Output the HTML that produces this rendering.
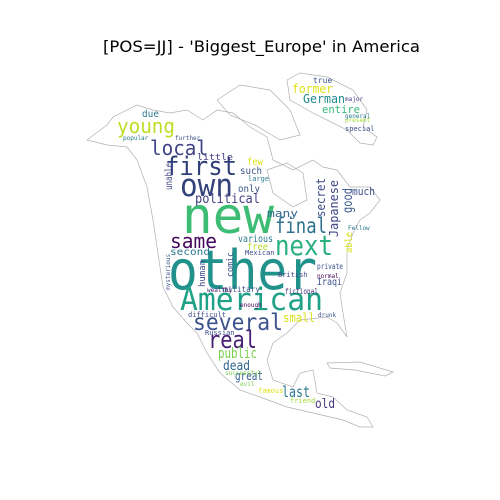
<!DOCTYPE html>
<html><head><meta charset="utf-8"><style>
html,body{margin:0;padding:0;background:#fff;width:500px;height:500px;overflow:hidden}
svg text{font-family:"DejaVu Sans Mono","Liberation Mono",monospace}
</style></head><body>
<svg width="500" height="500" viewBox="0 0 500 500" xmlns="http://www.w3.org/2000/svg">
<rect width="500" height="500" fill="#fff"/>
<text x="103" y="52" font-size="16" textLength="317" lengthAdjust="spacingAndGlyphs" style="font-family:'DejaVu Sans','Liberation Sans',sans-serif" fill="#000">[POS=JJ] - 'Biggest_Europe' in America</text>
<g fill="none" stroke="#b0b0b0" stroke-width="0.7">
<path d="M87,140 L107,125 L113,117 L137,105 L153,110 L170,113 L187,110 L203,120 L217,110 L233,113 L250,127 L267,137 L273,160 L293,170 L313,160 L323,167 L337,170 L350,187 L370,187 L380,200 L370,213 L360,220 L353,233 L347,250 L347,273 L340,293 L343,313 L347,337 L337,323 L327,317 L300,320 L287,333 L273,343 L267,360 L273,380 L293,387 L300,373 L313,370 L317,393 L333,397 L347,410 L367,417 L373,427 L360,427 L343,420 L313,413 L287,407 L260,397 L240,390 L220,373 L207,353 L197,333 L187,323 L173,307 L163,287 L160,267 L157,247 L153,220 L147,187 L137,160 L127,147 L107,145 Z"/>
<path d="M287,80 L300,73 L327,77 L353,90 L367,110 L363,127 L377,137 L373,145 L360,143 L347,130 L313,113 L290,100 Z"/>
<path d="M217,100 L240,85 L270,90 L290,110 L300,135 L280,140 L255,125 L230,115 Z"/>
<path d="M267,170 L287,163 L303,173 L307,200 L293,207 L273,193 Z"/>
<path d="M327,363 L360,362 L393,372 L385,376 L355,370 L330,368 Z"/>
</g>
<g>
<text x="168" y="289" font-size="54" textLength="149" lengthAdjust="spacingAndGlyphs" fill="#21918c">other</text>
<text x="182" y="233" font-size="50" textLength="92" lengthAdjust="spacingAndGlyphs" fill="#3dbc74">new</text>
<text x="180" y="310" font-size="31" textLength="143" lengthAdjust="spacingAndGlyphs" fill="#1fa187">American</text>
<text x="275" y="255" font-size="28" textLength="58" lengthAdjust="spacingAndGlyphs" fill="#2ab07f">next</text>
<text x="275" y="233" font-size="21" textLength="52" lengthAdjust="spacingAndGlyphs" fill="#2c728e">final</text>
<text x="170" y="248" font-size="20" textLength="47" lengthAdjust="spacingAndGlyphs" fill="#46085c">same</text>
<text x="193" y="330" font-size="23" textLength="90" lengthAdjust="spacingAndGlyphs" fill="#3b528b">several</text>
<text x="208" y="348" font-size="24" textLength="49" lengthAdjust="spacingAndGlyphs" fill="#482173">real</text>
<text x="165" y="175" font-size="26" textLength="72" lengthAdjust="spacingAndGlyphs" fill="#2f3f78">first</text>
<text x="180" y="196" font-size="31" textLength="53" lengthAdjust="spacingAndGlyphs" fill="#33427a">own</text>
<text x="150" y="155" font-size="20" textLength="58" lengthAdjust="spacingAndGlyphs" fill="#414487">local</text>
<text x="117" y="133" font-size="20" textLength="58" lengthAdjust="spacingAndGlyphs" fill="#bddf26">young</text>
<text x="195" y="203" font-size="13" textLength="65" lengthAdjust="spacingAndGlyphs" fill="#433e85">political</text>
<text x="218" y="358" font-size="14" textLength="39" lengthAdjust="spacingAndGlyphs" fill="#7ad151">public</text>
<text x="223" y="370" font-size="13" textLength="27" lengthAdjust="spacingAndGlyphs" fill="#31688e">dead</text>
<text x="235" y="380" font-size="12" textLength="28" lengthAdjust="spacingAndGlyphs" fill="#355f8d">great</text>
<text x="282" y="397" font-size="15" textLength="28" lengthAdjust="spacingAndGlyphs" fill="#2a788e">last</text>
<text x="315" y="408" font-size="13" textLength="20" lengthAdjust="spacingAndGlyphs" fill="#453781">old</text>
<text x="292" y="93" font-size="12" textLength="41" lengthAdjust="spacingAndGlyphs" fill="#dde318">former</text>
<text x="303" y="103" font-size="12" textLength="42" lengthAdjust="spacingAndGlyphs" fill="#228c8d">German</text>
<text x="322" y="113" font-size="11" textLength="38" lengthAdjust="spacingAndGlyphs" fill="#35b779">entire</text>
<text x="313" y="83" font-size="8" fill="#3b528b">true</text>
<text x="345" y="101" font-size="6" fill="#433e85">major</text>
<text x="345" y="118" font-size="6" fill="#2a788e">general</text>
<text x="345" y="122" font-size="6" fill="#a0da39">present</text>
<text x="345" y="131" font-size="7" fill="#3e4989">special</text>
<text x="325" y="217" font-size="12" textLength="39" lengthAdjust="spacingAndGlyphs" transform="rotate(-90 325 217)" fill="#3e4989">secret</text>
<text x="338" y="237" font-size="12" textLength="57" lengthAdjust="spacingAndGlyphs" transform="rotate(-90 338 237)" fill="#404688">Japanese</text>
<text x="352" y="213" font-size="13" textLength="25" lengthAdjust="spacingAndGlyphs" transform="rotate(-90 352 213)" fill="#38598c">good</text>
<text x="352" y="253" font-size="10" textLength="21" lengthAdjust="spacingAndGlyphs" transform="rotate(-90 352 253)" fill="#d8e219">able</text>
<text x="352" y="195" font-size="11" textLength="23" lengthAdjust="spacingAndGlyphs" fill="#3c4f8a">much</text>
<text x="348" y="230" font-size="6" fill="#2a788e">Fellow</text>
<text x="267" y="217" font-size="11" textLength="31" lengthAdjust="spacingAndGlyphs" fill="#31688e">many</text>
<text x="238" y="242" font-size="10" textLength="35" lengthAdjust="spacingAndGlyphs" fill="#2a788e">various</text>
<text x="247" y="250" font-size="10" textLength="21" lengthAdjust="spacingAndGlyphs" fill="#b5de2b">free</text>
<text x="170" y="255" font-size="10" textLength="40" lengthAdjust="spacingAndGlyphs" fill="#2a788e">second</text>
<text x="233" y="277" font-size="9" textLength="25" lengthAdjust="spacingAndGlyphs" transform="rotate(-90 233 277)" fill="#3b528b">comic</text>
<text x="205" y="287" font-size="9" textLength="27" lengthAdjust="spacingAndGlyphs" transform="rotate(-90 205 287)" fill="#3e4989">human</text>
<text x="172" y="190" font-size="10" textLength="27" lengthAdjust="spacingAndGlyphs" transform="rotate(-90 172 190)" fill="#414487">unable</text>
<text x="317" y="269" font-size="8" textLength="26" lengthAdjust="spacingAndGlyphs" fill="#3b528b">private</text>
<text x="317" y="285" font-size="10" textLength="25" lengthAdjust="spacingAndGlyphs" fill="#3b528b">Iraqi</text>
<text x="317" y="278" font-size="6" fill="#440154">normal</text>
<text x="278" y="277" font-size="7" fill="#3e4989">British</text>
<text x="245" y="255" font-size="7" fill="#3e4989">Mexican</text>
<text x="223" y="292" font-size="8" textLength="37" lengthAdjust="spacingAndGlyphs" fill="#3b528b">military</text>
<text x="207" y="292" font-size="6" fill="#482173">wealthy</text>
<text x="285" y="294" font-size="8" textLength="33" lengthAdjust="spacingAndGlyphs" fill="#46327e">fictional</text>
<text x="240" y="307" font-size="6" fill="#440154">enough</text>
<text x="283" y="322" font-size="12" textLength="32" lengthAdjust="spacingAndGlyphs" fill="#d8e219">small</text>
<text x="188" y="317" font-size="7" fill="#3e4989">difficult</text>
<text x="318" y="317" font-size="6" fill="#3b528b">drunk</text>
<text x="205" y="335" font-size="7" fill="#3e4989">Russian</text>
<text x="225" y="375" font-size="6" fill="#7ad151">successful</text>
<text x="240" y="386" font-size="6" fill="#7ad151">evil</text>
<text x="258" y="393" font-size="7" fill="#dde318">famous</text>
<text x="290" y="403" font-size="7" fill="#a0da39">friend</text>
<text x="142" y="117" font-size="10" textLength="17" lengthAdjust="spacingAndGlyphs" fill="#2a788e">due</text>
<text x="197" y="160" font-size="9" textLength="36" lengthAdjust="spacingAndGlyphs" fill="#443a83">little</text>
<text x="247" y="165" font-size="10" textLength="16" lengthAdjust="spacingAndGlyphs" fill="#dde318">few</text>
<text x="240" y="174" font-size="10" textLength="22" lengthAdjust="spacingAndGlyphs" fill="#3b528b">such</text>
<text x="248" y="181" font-size="7" fill="#2a788e">large</text>
<text x="238" y="192" font-size="10" textLength="22" lengthAdjust="spacingAndGlyphs" fill="#3b528b">only</text>
<text x="123" y="140" font-size="6" fill="#2a788e">popular</text>
<text x="175" y="140" font-size="6" fill="#3b528b">further</text>
<text x="170" y="290" font-size="6" transform="rotate(-90 170 290)" fill="#3b528b">mysterious</text>
</g>
</svg>
</body></html>
